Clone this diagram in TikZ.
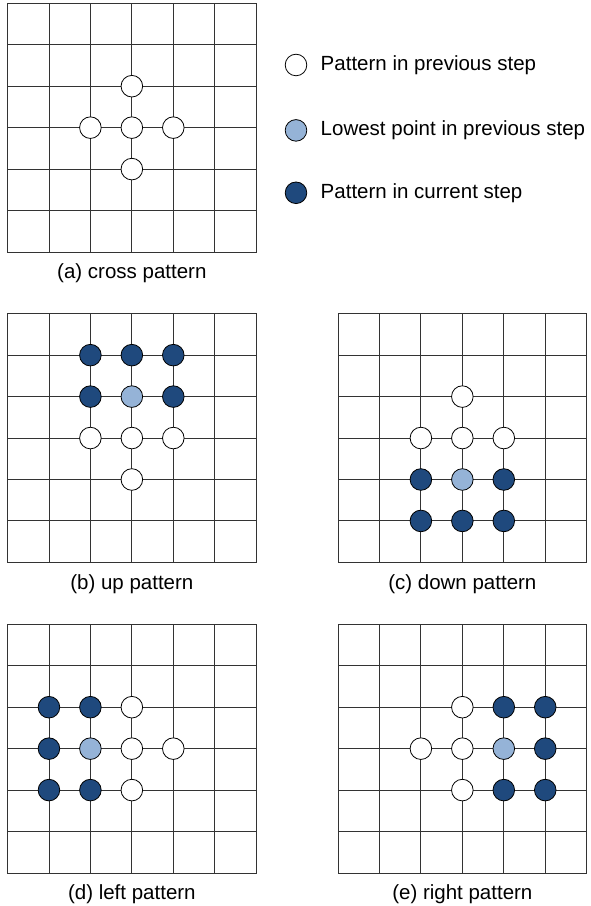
\documentclass[tikz,border=0pt]{standalone}
\usepackage{fontspec}
\setmainfont{Liberation Sans}
\usetikzlibrary{positioning}
\definecolor{ptcur}{HTML}{1F497D}
\definecolor{ptlow}{HTML}{95B3D7}

\newcommand\patgrid{%
  \foreach \i in {0,...,6} {\draw[gridline] (\i,0) -- (\i,6); \draw[gridline] (0,\i) -- (6,\i);}}

\begin{document}
\begin{tikzpicture}[x=1pt, y=1pt, font=\fontsize{20.5}{24}\selectfont, node distance=40pt and 10pt,
  gridline/.style={line width=0.9pt, black!80, line cap=rect},
  dot/.style={circle, draw, line width=0.8pt, inner sep=0pt, minimum size=21.6pt},
  prev/.style={dot, fill=white}, low/.style={dot, fill=ptlow}, cur/.style={dot, fill=ptcur}]
\useasboundingbox (0,0) rectangle (591,906);
% (a) cross
\begin{scope}[shift={(7.5,654)}, x=41.45pt, y=41.45pt]
  \patgrid
  \node[prev] (a1) at (3,4) {};
  \node[prev] (a2) at (2,3) {}; \node[prev] (a3) at (3,3) {}; \node[prev] (a4) at (4,3) {};
  \node[prev] (a5) at (3,2) {};
  \node (capa) at (3,-0.5) {(a) cross pattern};
\end{scope}
% legend
\node[prev] (lg1) at (296,841) {};
\node[right=of lg1] (lt1) {Pattern in previous step};
\node[low, below=43pt of lg1] (lg2) {};
\node[right=of lg2] (lt2) {Lowest point in previous step};
\node[cur, below=40pt of lg2] (lg3) {};
\node[right=of lg3] (lt3) {Pattern in current step};
% (b) up
\begin{scope}[shift={(7.5,343.6)}, x=41.45pt, y=41.45pt]
  \patgrid
  \node[cur] (b1) at (2,5) {}; \node[cur] (b2) at (3,5) {}; \node[cur] (b3) at (4,5) {};
  \node[cur] (b4) at (2,4) {}; \node[low] (b5) at (3,4) {}; \node[cur] (b6) at (4,4) {};
  \node[prev] (b7) at (2,3) {}; \node[prev] (b8) at (3,3) {}; \node[prev] (b9) at (4,3) {};
  \node[prev] (b10) at (3,2) {};
  \node (capb) at (3,-0.53) {(b) up pattern};
\end{scope}
% (c) down
\begin{scope}[shift={(338,343.6)}, x=41.45pt, y=41.45pt]
  \patgrid
  \node[prev] (c1) at (3,4) {};
  \node[prev] (c2) at (2,3) {}; \node[prev] (c3) at (3,3) {}; \node[prev] (c4) at (4,3) {};
  \node[cur] (c5) at (2,2) {}; \node[low] (c6) at (3,2) {}; \node[cur] (c7) at (4,2) {};
  \node[cur] (c8) at (2,1) {}; \node[cur] (c9) at (3,1) {}; \node[cur] (c10) at (4,1) {};
  \node (capc) at (3,-0.53) {(c) down pattern};
\end{scope}
% (d) left
\begin{scope}[shift={(7.5,33)}, x=41.45pt, y=41.45pt]
  \patgrid
  \node[cur] (d1) at (1,4) {}; \node[cur] (d2) at (2,4) {}; \node[prev] (d3) at (3,4) {};
  \node[cur] (d4) at (1,3) {}; \node[low] (d5) at (2,3) {}; \node[prev] (d6) at (3,3) {};
  \node[prev] (d7) at (4,3) {};
  \node[cur] (d8) at (1,2) {}; \node[cur] (d9) at (2,2) {}; \node[prev] (d10) at (3,2) {};
  \node (capd) at (3,-0.5) {(d) left pattern};
\end{scope}
% (e) right
\begin{scope}[shift={(338,33)}, x=41.45pt, y=41.45pt]
  \patgrid
  \node[prev] (e1) at (3,4) {}; \node[cur] (e2) at (4,4) {}; \node[cur] (e3) at (5,4) {};
  \node[prev] (e4) at (2,3) {}; \node[prev] (e5) at (3,3) {};
  \node[low] (e6) at (4,3) {}; \node[cur] (e7) at (5,3) {};
  \node[prev] (e8) at (3,2) {}; \node[cur] (e9) at (4,2) {}; \node[cur] (e10) at (5,2) {};
  \node (cape) at (3,-0.5) {(e) right pattern};
\end{scope}
\end{tikzpicture}
\end{document}
